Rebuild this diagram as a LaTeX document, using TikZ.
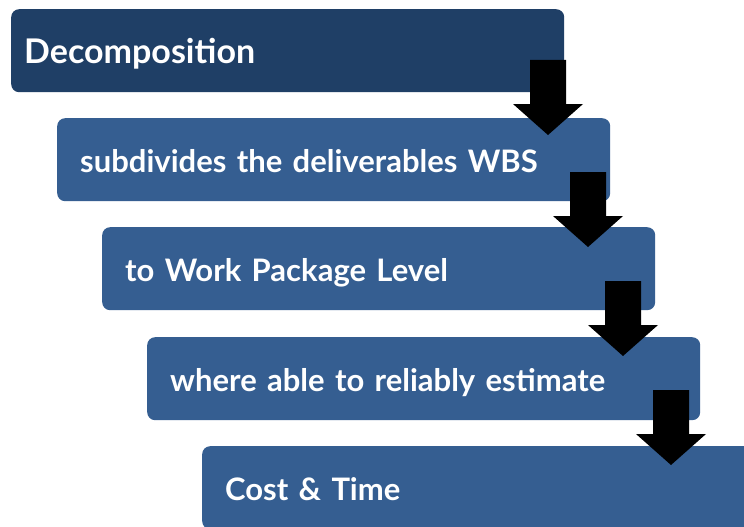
\documentclass[tikz,border=0pt]{standalone}
\usepackage{fontspec}
\setmainfont{Lato}
\definecolor{navy}{RGB}{31,63,102}
\definecolor{steel}{RGB}{53,94,145}
\tikzset{
  stage/.style={fill=steel, rounded corners=8pt, anchor=north west,
    minimum width=553pt, minimum height=83pt, text width=507pt,
    inner xsep=23pt, align=left, text=white,
    text height=25pt, text depth=0pt,
    font=\fontsize{31}{34}\selectfont\bfseries},
  blockarrow/.style={fill=black}
}
% down arrow: x of centre, y of top
\newcommand{\downarr}[2]{%
  \fill[blockarrow] (#1-18,#2) -- (#1+18,#2) -- (#1+18,#2+44) -- (#1+35,#2+44)
    -- (#1,#2+75) -- (#1-35,#2+44) -- (#1-18,#2+44) -- cycle;}
\begin{document}
\begin{tikzpicture}[x=1pt,y=-1pt]
    \clip (0,0) rectangle (744,527);
    \fill[white] (0,0) rectangle (744,527);

    \node[stage, fill=navy, inner xsep=13pt, text width=527pt,
      font=\fontsize{34}{36}\selectfont\bfseries] (decomp) at (11,9) {Decomposition};
    \node[stage] (subdiv) at (57,118) {subdivides the deliverables WBS};
    \node[stage] (wplevel) at (102,227) {to Work Package Level};
    \node[stage] (estim) at (147,337) {where able to reliably estimate};
    \node[stage] (costtime) at (202,446) {Cost \& Time};

    \downarr{548}{60}
    \downarr{588}{172}
    \downarr{623}{281}
    \downarr{671}{390}
  \end{tikzpicture}
\end{document}
